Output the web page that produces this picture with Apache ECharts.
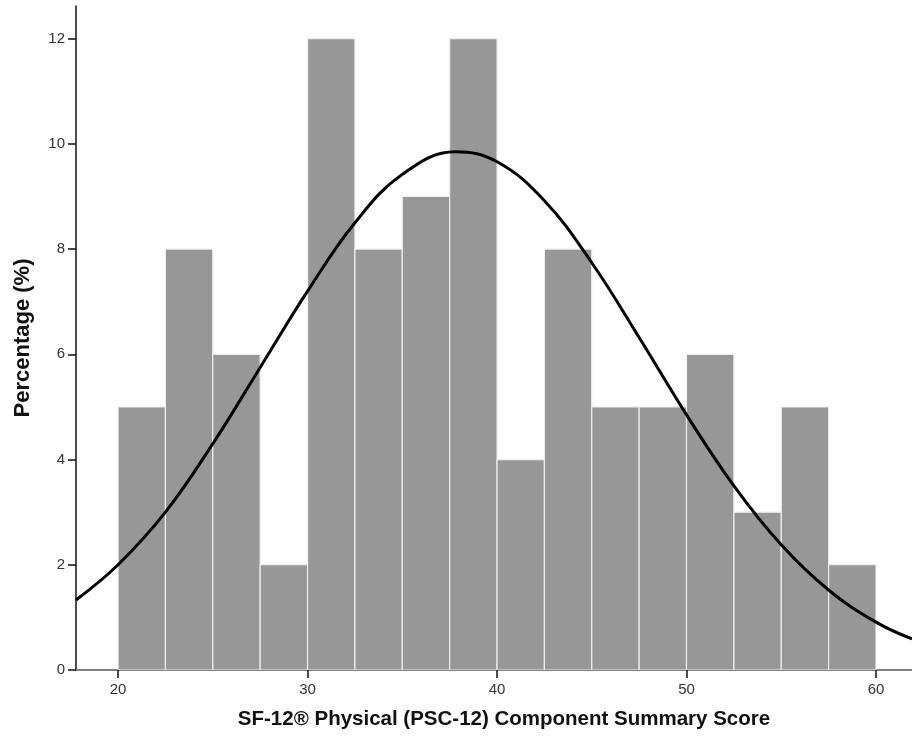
<!DOCTYPE html>
<html>
<head>
<meta charset="utf-8">
<script src="https://cdn.jsdelivr.net/npm/echarts@6/dist/echarts.min.js"></script>
<style>html,body{margin:0;padding:0;background:#fff;}#c{width:912px;height:744px;}</style>
</head>
<body>
<div id="c"></div>
<script>
// Histogram bins (left edge, right edge) and percentages
const binStarts = [20, 22.5, 25, 27.5, 30, 32.5, 35, 37.5, 40, 42.5, 45, 47.5, 50, 52.5, 55, 57.5];
const binEnds   = [22.5, 25, 27.5, 30, 32.5, 35, 37.5, 40, 42.5, 45, 47.5, 50, 52.5, 55, 57.5, 60];
const percentages = [5, 8, 6, 2, 12, 8, 9, 12, 4, 8, 5, 5, 6, 3, 5, 2];

// Normal curve points
const curveX = [17.78, 20, 22.5, 25, 27.5, 30, 32.5, 35, 37.8, 40, 42.5, 45, 47.5, 50, 52.5, 55, 57.5, 60, 61.9];
const curveY = [1.33, 2.0, 3.0, 4.3, 5.75, 7.2, 8.5, 9.42, 9.85, 9.66, 8.92, 7.74, 6.32, 4.85, 3.5, 2.38, 1.52, 0.91, 0.59];

const xTicks = [20, 30, 40, 50, 60];
const yTicks = [0, 2, 4, 6, 8, 10, 12];

const barData = binStarts.map((s, i) => [s, binEnds[i], percentages[i]]);
const lineData = curveX.map((x, i) => [x, curveY[i]]);

const chart = echarts.init(document.getElementById('c'), null, {renderer: 'canvas'});
chart.setOption({
  animation: false,
  backgroundColor: '#ffffff',
  grid: {left: 76, top: 6, right: 0, bottom: 74, containLabel: false},
  xAxis: [{
    type: 'value', min: 17.78, max: 61.9,
    name: 'SF-12® Physical (PSC-12) Component Summary Score',
    nameLocation: 'middle', nameGap: 39,
    nameTextStyle: {fontFamily: 'Liberation Sans', fontWeight: 'bold', fontSize: 20.5, color: '#111', padding: [0, 0, 0, 20]},
    axisLine: {show: true, onZero: false, lineStyle: {color: '#111', width: 1.5}},
    axisTick: {show: true, length: 8, customValues: xTicks, lineStyle: {color: '#111', width: 1.5}},
    axisLabel: {customValues: xTicks, fontFamily: 'Liberation Sans', fontSize: 15, color: '#333', margin: 12},
    splitLine: {show: false}
  }, {
    type: 'value', position: 'top', min: 17.78, max: 61.9,
    axisLine: {show: true, lineStyle: {color: '#808080', width: 2}},
    axisTick: {show: false}, axisLabel: {show: false}, splitLine: {show: false}
  }],
  yAxis: {
    type: 'value', min: 0, max: 12.62,
    name: 'Percentage (%)',
    nameLocation: 'middle', nameGap: 42,
    nameTextStyle: {fontFamily: 'Liberation Sans', fontWeight: 'bold', fontSize: 22, color: '#111'},
    axisLine: {show: true, lineStyle: {color: '#111', width: 1.5}},
    axisTick: {show: true, length: 8, customValues: yTicks, lineStyle: {color: '#111', width: 1.5}},
    axisLabel: {customValues: yTicks, fontFamily: 'Liberation Sans', fontSize: 15, color: '#333', margin: 11},
    splitLine: {show: false}
  },
  series: [{
    type: 'custom',
    data: barData,
    clip: true,
    renderItem: function (params, api) {
      const p0 = api.coord([api.value(0), 0]);
      const p1 = api.coord([api.value(1), api.value(2)]);
      return {
        type: 'rect',
        shape: {x: p0[0], y: p1[1], width: p1[0] - p0[0], height: p0[1] - p1[1]},
        style: {fill: '#979797', stroke: '#eeeeee', lineWidth: 1.2}
      };
    },
    z: 2
  }, {
    type: 'line',
    data: lineData,
    smooth: 0.4,
    showSymbol: false,
    lineStyle: {color: '#000', width: 3},
    z: 3
  }]
});
</script>
</body>
</html>
